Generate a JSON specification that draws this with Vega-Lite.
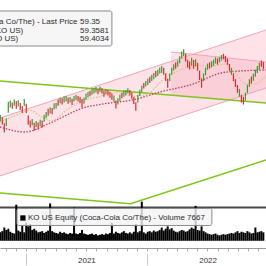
{
"$schema":"https://vega.github.io/schema/vega-lite/v6.json",
"width":266,"height":248,"padding":{"left":0,"top":0,"right":0,"bottom":18},"autosize":{"type":"none"},
"background":"white",
"config":{"view":{"stroke":null},"font":"Liberation Sans"},
"datasets":{
"ch":[{"g":"outer","d":"2020-10-15","t":50.04,"b":35.17},{"g":"outer","d":"2022-12-25","t":72.61,"b":57.74},{"g":"inner","d":"2022-03-14","t":66.97,"b":55.9},{"g":"inner","d":"2022-12-25","t":64.40,"b":53.9}],
"gl":[{"g":"a","d":"2020-10-15","p":59.53},{"g":"a","d":"2022-12-25","p":53.89},{"g":"b","d":"2020-10-15","p":30.81},{"g":"b","d":"2021-11-12","p":28.04},{"g":"b","d":"2022-12-25","p":39.27}],
"ma":[
{"m":"200","d":"2020-10-15","p":47.74},{"m":"200","d":"2020-12-29","p":46.45},{"m":"200","d":"2021-03-15","p":48.76},{"m":"200","d":"2021-06-22","p":52.6},{"m":"200","d":"2021-09-11","p":53.9},{"m":"200","d":"2021-11-19","p":54.66},{"m":"200","d":"2022-02-08","p":56.7},{"m":"200","d":"2022-05-10","p":58.5},{"m":"200","d":"2022-08-26","p":61.8},{"m":"200","d":"2022-12-25","p":62.35},
{"m":"50","d":"2020-10-15","p":48.9},{"m":"50","d":"2020-11-29","p":50.6},{"m":"50","d":"2021-01-13","p":52.0},{"m":"50","d":"2021-02-21","p":50.1},{"m":"50","d":"2021-03-20","p":49.3},{"m":"50","d":"2021-05-05","p":52.2},{"m":"50","d":"2021-06-22","p":54.5},{"m":"50","d":"2021-08-12","p":55.6},{"m":"50","d":"2021-09-11","p":56.5},{"m":"50","d":"2021-10-11","p":56.5},{"m":"50","d":"2021-11-19","p":55.6},{"m":"50","d":"2021-12-28","p":56.0},{"m":"50","d":"2022-02-27","p":60.5},{"m":"50","d":"2022-04-10","p":62.3},{"m":"50","d":"2022-05-25","p":63.5},{"m":"50","d":"2022-07-09","p":63.3},{"m":"50","d":"2022-08-26","p":63.8},{"m":"50","d":"2022-09-25","p":61.5},{"m":"50","d":"2022-10-25","p":58.8},{"m":"50","d":"2022-11-24","p":58.8},{"m":"50","d":"2022-12-25","p":61.0}],
"px":[
{"d":"2020-10-16","l":49.2,"h":50.8,"u":1,"v":14},{"d":"2020-10-22","l":48.4,"h":50.2,"u":0,"v":16},{"d":"2020-10-28","l":46.3,"h":48.7,"u":0,"v":22},{"d":"2020-11-03","l":48.0,"h":50.0,"u":1,"v":18},{"d":"2020-11-09","l":51.4,"h":54.2,"u":1,"v":20},{"d":"2020-11-15","l":52.7,"h":54.5,"u":1,"v":15},{"d":"2020-11-21","l":52.4,"h":54.0,"u":0,"v":13},{"d":"2020-11-27","l":53.2,"h":54.8,"u":1,"v":12},{"d":"2020-12-03","l":52.4,"h":54.4,"u":0,"v":60},{"d":"2020-12-09","l":53.0,"h":54.6,"u":1,"v":17},
{"d":"2020-12-15","l":52.1,"h":53.9,"u":0,"v":15},{"d":"2020-12-21","l":51.3,"h":53.1,"u":0,"v":26},{"d":"2020-12-27","l":53.1,"h":54.9,"u":1,"v":14},{"d":"2021-01-02","l":51.3,"h":53.7,"u":0,"v":30},{"d":"2021-01-08","l":48.3,"h":50.7,"u":0,"v":24},{"d":"2021-01-14","l":47.6,"h":49.4,"u":0,"v":28},{"d":"2021-01-20","l":48.2,"h":49.8,"u":1,"v":18},{"d":"2021-01-26","l":46.8,"h":48.8,"u":0,"v":20},{"d":"2021-02-01","l":47.7,"h":49.3,"u":1,"v":17},{"d":"2021-02-07","l":47.1,"h":48.9,"u":0,"v":14},
{"d":"2021-02-13","l":48.0,"h":49.6,"u":1,"v":15},{"d":"2021-02-19","l":47.6,"h":49.4,"u":0,"v":16},{"d":"2021-02-25","l":49.1,"h":50.9,"u":1,"v":13},{"d":"2021-03-03","l":50.0,"h":51.6,"u":1,"v":15},{"d":"2021-03-09","l":50.6,"h":52.4,"u":0,"v":17},{"d":"2021-03-15","l":51.2,"h":52.8,"u":1,"v":62},{"d":"2021-03-21","l":51.0,"h":52.6,"u":0,"v":16},{"d":"2021-03-27","l":52.2,"h":53.8,"u":1,"v":14},{"d":"2021-04-02","l":52.5,"h":53.9,"u":1,"v":13},{"d":"2021-04-08","l":53.2,"h":54.8,"u":0,"v":12},
{"d":"2021-04-14","l":53.8,"h":55.2,"u":1,"v":15},{"d":"2021-04-20","l":53.5,"h":55.1,"u":0,"v":13},{"d":"2021-04-26","l":54.0,"h":55.6,"u":1,"v":14},{"d":"2021-05-02","l":54.3,"h":55.7,"u":1,"v":12},{"d":"2021-05-08","l":53.7,"h":55.3,"u":0,"v":11},{"d":"2021-05-14","l":54.0,"h":55.4,"u":1,"v":13},{"d":"2021-05-20","l":53.4,"h":55.0,"u":0,"v":12},{"d":"2021-05-26","l":54.3,"h":55.7,"u":1,"v":55},{"d":"2021-06-01","l":54.6,"h":56.0,"u":1,"v":12},{"d":"2021-06-07","l":54.3,"h":55.7,"u":0,"v":11},
{"d":"2021-06-13","l":53.8,"h":55.4,"u":0,"v":13},{"d":"2021-06-19","l":52.7,"h":54.9,"u":0,"v":18},{"d":"2021-06-25","l":53.7,"h":55.3,"u":1,"v":12},{"d":"2021-07-01","l":54.7,"h":56.3,"u":1,"v":11},{"d":"2021-07-07","l":55.3,"h":56.7,"u":1,"v":10},{"d":"2021-07-13","l":55.6,"h":57.0,"u":0,"v":11},{"d":"2021-07-19","l":56.0,"h":57.6,"u":1,"v":12},{"d":"2021-07-25","l":56.3,"h":57.7,"u":1,"v":10},{"d":"2021-07-31","l":56.6,"h":58.0,"u":1,"v":11},{"d":"2021-08-06","l":56.1,"h":57.5,"u":0,"v":9},
{"d":"2021-08-12","l":56.7,"h":58.1,"u":1,"v":10},{"d":"2021-08-18","l":56.3,"h":57.7,"u":0,"v":11},{"d":"2021-08-24","l":55.5,"h":57.1,"u":0,"v":10},{"d":"2021-08-30","l":56.1,"h":57.5,"u":1,"v":12},{"d":"2021-09-05","l":55.8,"h":57.2,"u":0,"v":11},{"d":"2021-09-11","l":55.2,"h":56.8,"u":0,"v":13},{"d":"2021-09-17","l":54.7,"h":56.3,"u":0,"v":30},{"d":"2021-09-23","l":54.2,"h":55.8,"u":1,"v":12},{"d":"2021-09-29","l":52.5,"h":54.5,"u":0,"v":15},{"d":"2021-10-05","l":53.5,"h":55.1,"u":1,"v":13},
{"d":"2021-10-11","l":54.4,"h":56.0,"u":1,"v":12},{"d":"2021-10-17","l":55.1,"h":56.5,"u":0,"v":14},{"d":"2021-10-23","l":55.5,"h":57.1,"u":1,"v":16},{"d":"2021-10-29","l":55.8,"h":57.2,"u":1,"v":13},{"d":"2021-11-04","l":56.3,"h":57.7,"u":1,"v":12},{"d":"2021-11-10","l":55.8,"h":57.2,"u":0,"v":14},{"d":"2021-11-16","l":55.0,"h":56.6,"u":0,"v":12},{"d":"2021-11-22","l":53.6,"h":55.4,"u":0,"v":15},{"d":"2021-11-28","l":51.9,"h":54.1,"u":0,"v":28},{"d":"2021-12-04","l":54.0,"h":56.0,"u":1,"v":14},
{"d":"2021-12-10","l":55.7,"h":57.3,"u":1,"v":16},{"d":"2021-12-16","l":56.7,"h":58.3,"u":1,"v":65},{"d":"2021-12-22","l":57.6,"h":59.0,"u":0,"v":14},{"d":"2021-12-28","l":58.1,"h":59.5,"u":1,"v":12},{"d":"2022-01-03","l":58.5,"h":60.1,"u":1,"v":15},{"d":"2022-01-09","l":59.0,"h":60.6,"u":0,"v":16},{"d":"2022-01-15","l":59.5,"h":61.1,"u":1,"v":14},{"d":"2022-01-21","l":60.0,"h":61.6,"u":1,"v":17},{"d":"2022-01-27","l":60.5,"h":62.1,"u":0,"v":15},{"d":"2022-02-02","l":60.8,"h":62.4,"u":1,"v":16},
{"d":"2022-02-08","l":61.4,"h":63.0,"u":1,"v":18},{"d":"2022-02-14","l":61.6,"h":63.4,"u":1,"v":22},{"d":"2022-02-20","l":61.1,"h":62.9,"u":0,"v":17},{"d":"2022-02-26","l":59.5,"h":61.5,"u":0,"v":20},{"d":"2022-03-04","l":57.8,"h":60.2,"u":0,"v":24},{"d":"2022-03-10","l":59.5,"h":61.5,"u":1,"v":19},{"d":"2022-03-16","l":61.1,"h":62.9,"u":1,"v":21},{"d":"2022-03-22","l":62.2,"h":63.8,"u":1,"v":17},{"d":"2022-03-28","l":62.7,"h":64.3,"u":0,"v":15},{"d":"2022-04-03","l":63.2,"h":64.8,"u":1,"v":14},
{"d":"2022-04-09","l":64.1,"h":65.9,"u":1,"v":16},{"d":"2022-04-15","l":65.3,"h":67.1,"u":1,"v":18},{"d":"2022-04-21","l":65.9,"h":67.7,"u":1,"v":17},{"d":"2022-04-27","l":64.5,"h":66.5,"u":0,"v":15},{"d":"2022-05-03","l":63.0,"h":65.0,"u":0,"v":16},{"d":"2022-05-09","l":62.5,"h":64.5,"u":0,"v":19},{"d":"2022-05-15","l":63.5,"h":65.5,"u":1,"v":22},{"d":"2022-05-21","l":62.7,"h":64.9,"u":0,"v":20},{"d":"2022-05-27","l":63.3,"h":65.1,"u":1,"v":58},{"d":"2022-06-02","l":62.2,"h":64.2,"u":0,"v":18},
{"d":"2022-06-08","l":59.8,"h":62.2,"u":0,"v":17},{"d":"2022-06-14","l":57.8,"h":60.2,"u":0,"v":24},{"d":"2022-06-20","l":59.5,"h":61.5,"u":1,"v":16},{"d":"2022-06-26","l":61.0,"h":63.0,"u":1,"v":14},{"d":"2022-07-02","l":62.4,"h":64.0,"u":1,"v":12},{"d":"2022-07-08","l":62.7,"h":64.3,"u":0,"v":11},{"d":"2022-07-14","l":63.0,"h":64.6,"u":1,"v":10},{"d":"2022-07-20","l":63.4,"h":65.0,"u":1,"v":11},{"d":"2022-07-26","l":64.0,"h":65.6,"u":1,"v":12},{"d":"2022-08-01","l":63.7,"h":65.3,"u":0,"v":10},
{"d":"2022-08-07","l":64.3,"h":65.7,"u":1,"v":9},{"d":"2022-08-13","l":64.8,"h":66.2,"u":1,"v":10},{"d":"2022-08-19","l":65.1,"h":66.5,"u":0,"v":11},{"d":"2022-08-25","l":64.4,"h":66.0,"u":0,"v":10},{"d":"2022-08-31","l":63.7,"h":65.3,"u":0,"v":11},{"d":"2022-09-06","l":62.1,"h":63.9,"u":0,"v":12},{"d":"2022-09-12","l":61.1,"h":62.9,"u":1,"v":13},{"d":"2022-09-18","l":59.5,"h":61.5,"u":0,"v":12},{"d":"2022-09-24","l":58.0,"h":60.0,"u":0,"v":14},{"d":"2022-09-30","l":56.5,"h":58.5,"u":0,"v":16},
{"d":"2022-10-06","l":55.5,"h":57.5,"u":1,"v":13},{"d":"2022-10-12","l":54.0,"h":56.0,"u":0,"v":15},{"d":"2022-10-18","l":53.5,"h":55.5,"u":0,"v":14},{"d":"2022-10-24","l":54.5,"h":56.5,"u":1,"v":13},{"d":"2022-10-30","l":56.4,"h":58.6,"u":1,"v":16},{"d":"2022-11-05","l":58.0,"h":60.0,"u":1,"v":14},{"d":"2022-11-11","l":58.9,"h":60.7,"u":0,"v":12},{"d":"2022-11-17","l":59.6,"h":61.4,"u":1,"v":13},{"d":"2022-11-23","l":60.6,"h":62.4,"u":1,"v":22},{"d":"2022-11-29","l":61.6,"h":63.4,"u":1,"v":14},
{"d":"2022-12-05","l":62.4,"h":64.2,"u":1,"v":15},{"d":"2022-12-11","l":63.2,"h":64.8,"u":0,"v":16},{"d":"2022-12-17","l":62.6,"h":64.4,"u":0,"v":14}],
"box":[{"x1":"2020-10-10","x2":"2021-09-17","y1":77.48,"y2":68.5},{"x1":"2020-12-05","x2":"2022-07-15","y1":26.84,"y2":22.48}],
"mk":[{"d":"2020-12-23","p":24.4}],
"lr":[{"d":"2021-06-05","p":74.14,"s":"KO US Equity (Coca-Cola Co/The) - Last Price"},{"d":"2020-12-24","p":71.84,"s":"(KO US)"},{"d":"2020-12-09","p":69.66,"s":"(KO US)"}],
"ll":[{"d":"2021-06-13","p":74.14,"s":"59.35"},{"d":"2021-06-13","p":71.84,"s":"59.3581"},{"d":"2021-06-13","p":69.66,"s":"59.4034"},{"d":"2021-01-07","p":23.95,"s":"KO US Equity (Coca-Cola Co/The) - Volume 7667"}]
},
"layer":[
{"data":{"name":"ch"},"mark":{"type":"area","fill":"#f7a1b3","opacity":0.3},
 "encoding":{"x":{"field":"d","type":"temporal","scale":{"domain":[{"year":2020,"month":10,"date":15,"utc":true},{"year":2022,"month":12,"date":25,"utc":true}]},"axis":null},
 "y":{"field":"t","type":"quantitative","scale":{"domain":[16.7,80.3],"nice":false,"zero":false},"axis":null},"y2":{"field":"b"},"detail":{"field":"g"}}},
{"data":{"name":"ch"},"mark":{"type":"line","stroke":"#f4a3b4","strokeWidth":1},
 "encoding":{"x":{"field":"d","type":"temporal","scale":{"domain":[{"year":2020,"month":10,"date":15,"utc":true},{"year":2022,"month":12,"date":25,"utc":true}]},"axis":null},
 "y":{"field":"t","type":"quantitative","scale":{"domain":[16.7,80.3],"nice":false,"zero":false},"axis":null},"detail":{"field":"g"}}},
{"data":{"name":"ch"},"transform":[{"filter":"datum.g == 'outer'"}],"mark":{"type":"line","stroke":"#f4a3b4","strokeWidth":1},
 "encoding":{"x":{"field":"d","type":"temporal","scale":{"domain":[{"year":2020,"month":10,"date":15,"utc":true},{"year":2022,"month":12,"date":25,"utc":true}]},"axis":null},
 "y":{"field":"b","type":"quantitative","scale":{"domain":[16.7,80.3],"nice":false,"zero":false},"axis":null},"detail":{"field":"g"}}},
{"data":{"name":"gl"},"mark":{"type":"line","stroke":"#80c41c","strokeWidth":1.6},
 "encoding":{"x":{"field":"d","type":"temporal","scale":{"domain":[{"year":2020,"month":10,"date":15,"utc":true},{"year":2022,"month":12,"date":25,"utc":true}]},"axis":null},
 "y":{"field":"p","type":"quantitative","scale":{"domain":[16.7,80.3],"nice":false,"zero":false},"axis":null},"detail":{"field":"g"}}},
{"data":{"name":"ma"},"mark":{"type":"line","strokeWidth":1.3,"strokeDash":[1.5,1.5],"interpolate":"monotone"},
 "encoding":{"x":{"field":"d","type":"temporal","scale":{"domain":[{"year":2020,"month":10,"date":15,"utc":true},{"year":2022,"month":12,"date":25,"utc":true}]},"axis":null},
 "y":{"field":"p","type":"quantitative","scale":{"domain":[16.7,80.3],"nice":false,"zero":false},"axis":null},
 "color":{"field":"m","type":"nominal","scale":{"domain":["50","200"],"range":["#d9c78a","#b8405a"]},"legend":null}}},
{"data":{"name":"px"},"mark":{"type":"rule","strokeWidth":1.2},
 "encoding":{"x":{"field":"d","type":"temporal","scale":{"domain":[{"year":2020,"month":10,"date":15,"utc":true},{"year":2022,"month":12,"date":25,"utc":true}]},
   "axis":{"orient":"bottom","tickCount":{"interval":"month","step":1},"labels":false,"domain":true,"domainColor":"#9b9b9b","domainWidth":1,"tickColor":"#b0b0b0","tickSize":3,"grid":false,"title":null}},
 "y":{"field":"l","type":"quantitative","scale":{"domain":[16.7,80.3],"nice":false,"zero":false},"axis":null},"y2":{"field":"h"},
 "color":{"field":"u","type":"nominal","scale":{"domain":[0,1],"range":["#e3262b","#3a9a36"]},"legend":null}}},
{"data":{"values":[{}]},"mark":{"type":"rule","stroke":"#4a4a4a","strokeWidth":2},
 "encoding":{"y":{"datum":27.1,"type":"quantitative","scale":{"domain":[16.7,80.3],"nice":false,"zero":false},"axis":null}}},
{"data":{"name":"px"},"mark":{"type":"rule","stroke":"#000000","strokeWidth":2},
 "encoding":{"x":{"field":"d","type":"temporal","scale":{"domain":[{"year":2020,"month":10,"date":15,"utc":true},{"year":2022,"month":12,"date":25,"utc":true}]},
   "axis":{"orient":"bottom","values":[{"year":2021,"month":1,"date":1,"utc":true},{"year":2022,"month":1,"date":1,"utc":true}],"format":"%Y","domain":false,"grid":false,"tickSize":12,"tickColor":"#c8c8c8","tickWidth":1,"offset":5,"labelOffset":60.5,"labelPadding":-3,"labelAlign":"center","labelFlush":false,"labelFontSize":8,"labelFont":"Liberation Sans","labelColor":"#333333","labelBaseline":"alphabetic","labelOverlap":false,"title":null}},
 "y":{"field":"v","type":"quantitative","scale":{"domain":[-12,400],"nice":false,"zero":false},"axis":null},"y2":{"datum":0}}},
{"data":{"name":"box"},"mark":{"type":"rect","fill":"#f4f4f4","fillOpacity":0.8,"stroke":"#8a8a8a","strokeWidth":1,"cornerRadius":2},
 "encoding":{"x":{"field":"x1","type":"temporal","scale":{"domain":[{"year":2020,"month":10,"date":15,"utc":true},{"year":2022,"month":12,"date":25,"utc":true}]},"axis":null},"x2":{"field":"x2"},
 "y":{"field":"y1","type":"quantitative","scale":{"domain":[16.7,80.3],"nice":false,"zero":false},"axis":null},"y2":{"field":"y2"}}},
{"data":{"name":"mk"},"mark":{"type":"point","shape":"square","filled":true,"color":"#000000","size":28,"opacity":1},
 "encoding":{"x":{"field":"d","type":"temporal","scale":{"domain":[{"year":2020,"month":10,"date":15,"utc":true},{"year":2022,"month":12,"date":25,"utc":true}]},"axis":null},
 "y":{"field":"p","type":"quantitative","scale":{"domain":[16.7,80.3],"nice":false,"zero":false},"axis":null}}},
{"data":{"name":"lr"},"mark":{"type":"text","align":"right","baseline":"alphabetic","fontSize":8,"font":"Liberation Sans","color":"#2b2b2b"},
 "encoding":{"x":{"field":"d","type":"temporal","scale":{"domain":[{"year":2020,"month":10,"date":15,"utc":true},{"year":2022,"month":12,"date":25,"utc":true}]},"axis":null},
 "y":{"field":"p","type":"quantitative","scale":{"domain":[16.7,80.3],"nice":false,"zero":false},"axis":null},"text":{"field":"s"}}},
{"data":{"name":"ll"},"mark":{"type":"text","align":"left","baseline":"alphabetic","fontSize":8,"font":"Liberation Sans","color":"#2b2b2b"},
 "encoding":{"x":{"field":"d","type":"temporal","scale":{"domain":[{"year":2020,"month":10,"date":15,"utc":true},{"year":2022,"month":12,"date":25,"utc":true}]},"axis":null},
 "y":{"field":"p","type":"quantitative","scale":{"domain":[16.7,80.3],"nice":false,"zero":false},"axis":null},"text":{"field":"s"}}}
],
"resolve":{"scale":{"y":"independent","color":"independent"},"axis":{"x":"independent","y":"independent"}}
}
